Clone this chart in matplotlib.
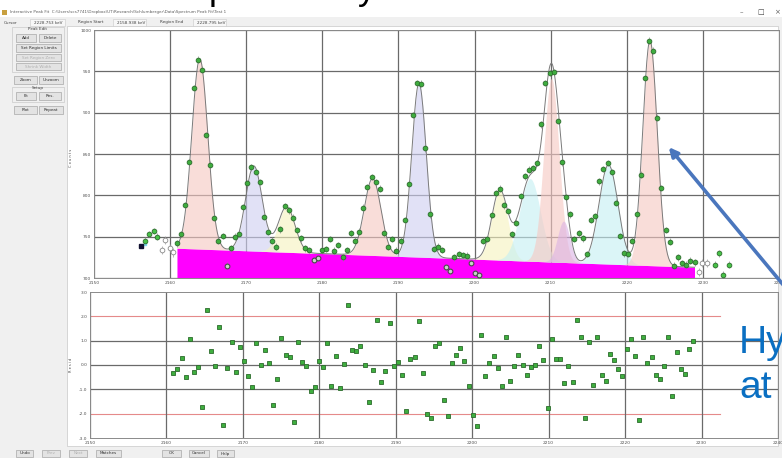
import numpy as np
import matplotlib.pyplot as plt
from matplotlib.patches import Rectangle, FancyArrowPatch

W, H = 782, 458

# channel calibration of the fit region
START_KEV = 2160.9
KEV_PER_CH = 0.544

counts = [742, 753, 788, 840, 930, 964, 952, 873, 837, 773,
          745, 751, 715, 736, 750, 753, 786, 815, 834, 828,
          816, 774, 756, 745, 738, 759, 787, 782, 773, 758,
          748, 736, 734, 722, 724, 734, 735, 747, 733, 740,
          725, 734, 754, 745, 756, 785, 810, 822, 816, 808,
          754, 738, 747, 733, 745, 770, 814, 897, 936, 935,
          857, 777, 735, 738, 734, 713, 708, 725, 729, 728,
          727, 718, 706, 704, 745, 747, 776, 803, 808, 788,
          781, 753, 767, 799, 823, 831, 833, 839, 886, 936,
          948, 949, 890, 840, 798, 777, 747, 754, 748, 729,
          770, 775, 817, 832, 839, 828, 791, 751, 730, 729,
          745, 777, 825, 942, 987, 975, 894, 809, 758, 744,
          715, 725, 718, 716, 721, 719]

residuals = [-0.34, -0.16, 0.27, -0.48, 1.07, -0.30, -0.10, -1.71, 2.26, 0.56,
             -0.03, 1.58, -2.46, -0.12, 0.95, -0.29, 0.74, 0.18, -0.45, -0.89,
             0.91, 0.00, 0.60, 0.10, -1.63, -0.59, 1.10, 0.40, 0.34, -2.35,
             0.95, 0.11, -0.03, -1.06, -0.92, 0.18, -0.10, 0.92, -0.88, 0.37,
             -0.93, 0.04, 2.48, 0.62, 0.59, 0.78, 0.00, -1.54, -0.22, 1.85,
             -0.71, -0.26, 1.74, -0.03, 0.14, -0.42, -1.91, 0.25, 0.32, 1.81,
             -0.34, -2.03, -2.17, 0.79, 0.92, -1.43, -2.09, 0.07, 0.42, 0.70,
             0.18, -0.88, -2.04, -2.52, 1.22, -0.45, 0.07, 0.37, -0.11, -0.86,
             1.16, -0.67, -0.03, 0.40, 0.00, -0.41, -0.10, -0.01, 0.79, 0.19,
             -1.76, 1.06, 0.23, 0.23, -0.73, -0.03, -0.69, 1.85, 1.16, -2.17,
             0.96, -0.82, 1.16, -0.40, -0.66, 0.44, 0.21, -0.18, -0.47, 0.66,
             1.07, 0.37, -2.26, 1.14, 0.07, 0.34, -0.42, -0.58, -0.03, 1.16,
             -1.28, 0.53, -0.16, -0.38, 0.66, 0.99]

# points outside the fit region
pre_keV = [2156.7, 2157.2, 2157.9, 2158.3]
pre_counts = [745, 753, 757, 750]
excl_keV = [2158.9, 2159.3, 2160.0, 2160.4, 2229.5, 2229.9, 2230.5]
excl_counts = [734, 746, 736, 731, 707, 718, 718]
post_keV = [2231.6, 2232.1, 2232.6, 2233.4]
post_counts = [716, 730, 704, 716]
cursor_keV, cursor_counts = 2156.2, 739

# linear background
bg_keV = [2160.9, 2228.9]
bg_counts = [736, 713]

# fitted peaks
peak_centers = [2163.9, 2171.0, 2175.3, 2186.6, 2192.7, 2203.3, 2207.3, 2210.1, 2211.7, 2217.6, 2223.05]
peak_heights = [230, 103, 55, 93, 210, 84, 100, 222, 50, 120, 272]
peak_sigmas = [1.05, 1.1, 1.1, 1.1, 0.95, 1.05, 1.35, 1.0, 0.8, 1.25, 0.95]
peak_colors = ['#f6c9c3', '#cfd0f2', '#f6f3bf', '#f6c9c3', '#cfd0f2', '#f6f3bf',
               '#c5eff3', '#f6c9c3', '#dcb4e4', '#c5eff3', '#f6c9c3']

energy = START_KEV + KEV_PER_CH * np.arange(len(counts))
counts = np.array(counts)

fig = plt.figure(figsize=(W / 100, H / 100), dpi=100)
fig.patch.set_facecolor('#f0f0f0')


def rect(x, y, w, h, **kw):
    fig.patches.append(Rectangle((x / W, 1 - (y + h) / H), w / W, h / H,
                                 transform=fig.transFigure, **kw))


def label(x, y, s, **kw):
    kw.setdefault('fontsize', 3)
    kw.setdefault('color', '#404040')
    kw.setdefault('va', 'center')
    fig.text(x / W, 1 - y / H, s, **kw)


def button(x, y, w, h, s, enabled=True):
    rect(x, y, w, h, facecolor='#e3e3e3', edgecolor='#a8a8a8', lw=0.5)
    label(x + w / 2, y + h / 2, s, ha='center',
          color='#303030' if enabled else '#b0b0b0')


# slide area above the window
rect(0, 0, W, 8, facecolor='white', edgecolor='none', zorder=-5)
label(209, -1.5, 'p', fontsize=26, color='black', va='baseline', family='Liberation Sans')
label(358, -1.5, 'y', fontsize=26, color='black', va='baseline', family='Liberation Sans')

# title bar and toolbar
rect(0, 8, W, 9, facecolor='white', edgecolor='none', zorder=-5)
rect(2, 10, 5, 5, facecolor='#c8a040', edgecolor='none')
label(10, 12.5, 'Interactive Peak Fit  C:\\Users\\scs7741\\Dropbox\\UT\\Research\\Schlumberger\\Data\\Spectrum Peak Fit\\Test 1',
      color='#606060')
label(740, 12.5, '\u2013', fontsize=5, color='#606060')
label(757, 12.5, '\u25a1', fontsize=5, color='#404040')
label(774, 12.5, '\u00d7', fontsize=5, color='#606060')
label(4, 22.5, 'Cursor')
rect(30, 19, 35, 7, facecolor='#f7f7f7', edgecolor='#c8c8c8', lw=0.4)
label(34, 22.5, '2228.753 keV')
label(78, 22.5, 'Region Start')
rect(113, 19, 33, 7, facecolor='#f7f7f7', edgecolor='#c8c8c8', lw=0.4)
label(117, 22.5, '2158.938 keV')
label(160, 22.5, 'Region End')
rect(193, 19, 33, 7, facecolor='#f7f7f7', edgecolor='#c8c8c8', lw=0.4)
label(197, 22.5, '2228.795 keV')

# white plotting canvas behind both axes
rect(67, 26, 711, 420, facecolor='white', edgecolor='#c8c8c8', lw=0.5, zorder=-5)

# left control panel
rect(12, 27, 52, 45, facecolor='none', edgecolor='#c0c0c0', lw=0.4)
label(38, 29, 'Peak Edit', ha='center')
button(16, 34, 20, 8, 'Add')
button(39, 34, 22, 8, 'Delete')
button(16, 44, 45, 8, 'Set Region Limits')
button(16, 54, 45, 7, 'Set Region Zero', enabled=False)
button(16, 63, 45, 7, 'Shrink Width', enabled=False)
button(14, 76, 23, 8, 'Zoom')
button(39, 76, 24, 8, 'Unzoom')
rect(12, 87, 52, 15, facecolor='none', edgecolor='#c0c0c0', lw=0.4)
label(38, 88.5, 'Setup', ha='center')
button(16, 92, 20, 8, 'Fit')
button(39, 92, 22, 8, 'Res.')
button(14, 106, 23, 8, 'Plot')
button(39, 106, 24, 8, 'Repeat')

# bottom button row
for x, w, s, on in [(16, 17, 'Undo', True), (42, 18, 'Prev', False), (69, 18, 'Next', False),
                    (96, 25, 'Matches', True), (162, 19, 'OK', True), (189, 20, 'Cancel', True),
                    (217, 17, 'Help', True)]:
    button(x, 450, w, 7, s, enabled=on)

grid_kw = dict(color='#6a6a6a', lw=0.9, zorder=1)
tick_kw = dict(length=0, labelsize=3.2, labelcolor='#505050', pad=2)

# spectrum with fitted peaks
ax = fig.add_axes([94 / W, 1 - 278 / H, 685 / W, 248 / H])
ax.set_xlim(2150, 2240)
ax.set_ylim(700, 1000)
ax.set_xticks(np.arange(2150, 2241, 10))
ax.set_yticks(np.arange(700, 1001, 50))
ax.grid(True, **grid_kw)
ax.tick_params(**tick_kw)
for s in ax.spines.values():
    s.set_color('#8a8a8a')
    s.set_linewidth(0.7)

bg_slope = (bg_counts[1] - bg_counts[0]) / (bg_keV[1] - bg_keV[0])
xf = np.linspace(bg_keV[0], bg_keV[1], 900)
bg = bg_counts[0] + bg_slope * (xf - bg_keV[0])
ax.fill_between(xf, 700, bg, color='#ff00ff', lw=0, zorder=2)

total = bg.copy()
for c, h, s, col in zip(peak_centers, peak_heights, peak_sigmas, peak_colors):
    g = h * np.exp(-0.5 * ((xf - c) / s) ** 2)
    ax.fill_between(xf, bg, bg + g, where=g > 0.5, color=col, alpha=0.62, lw=0, zorder=3)
    total += g
ax.plot(xf, total, color='#7a7a7a', lw=0.7, zorder=4)

bg_at_ch = bg_counts[0] + bg_slope * (energy - bg_keV[0])
low = counts < bg_at_ch - 4
ax.errorbar(energy, counts, yerr=4, fmt='none', ecolor='#909090', elinewidth=0.5, zorder=5)
ax.plot(energy[~low], counts[~low], 'o', ms=3.4, mfc='#3fae3f', mec='#2c6b2c', mew=0.6, zorder=6)
ax.plot(energy[low], counts[low], 'o', ms=3.4, mfc='#c9d6c9', mec='#4a4a4a', mew=0.8, zorder=6)
ax.errorbar(pre_keV + post_keV, pre_counts + post_counts, yerr=4, fmt='o', ms=3.4,
            mfc='#47c247', mec='#2c6b2c', mew=0.6, ecolor='#909090', elinewidth=0.5, zorder=6)
ax.errorbar(excl_keV, excl_counts, yerr=5, fmt='o', ms=3.4, mfc='white', mec='#8a8a8a',
            mew=0.6, ecolor='#a0a0a0', elinewidth=0.5, zorder=6)
ax.plot([cursor_keV], [cursor_counts], 's', ms=3.4, color='#101030', zorder=7)
ax.plot([cursor_keV + 0.5], [cursor_counts + 2], 's', ms=2, color='#7fd8f0', zorder=6)

# residuals
ar = fig.add_axes([90 / W, 1 - 438 / H, 688 / W, 146 / H])
ar.set_xlim(2150, 2240)
ar.set_ylim(-3, 3)
ar.set_xticks(np.arange(2150, 2241, 10))
ar.set_yticks(np.arange(-3, 3.1, 1))
ar.set_yticklabels(['%.1f' % v for v in np.arange(-3, 3.1, 1)])
ar.grid(True, axis='x', **grid_kw)
for v in (-1, 0, 1):
    ar.axhline(v, **grid_kw)
for v in (-2, 2):
    ar.plot([2150, 2232.4], [v, v], color='#e58a8a', lw=0.8, zorder=1)
ar.tick_params(**tick_kw)
for s in ar.spines.values():
    s.set_color('#8a8a8a')
    s.set_linewidth(0.7)
ar.plot(energy, residuals, 's', ms=3.1, mfc='#3fae3f', mec='#2c6b2c', mew=0.6, zorder=5)

label(71, 158, 'C o u n t s', rotation=90, ha='center', fontsize=2.5)
label(71, 365, 'R e s i d', rotation=90, ha='center', fontsize=2.5)

# annotation from the slide
fig.patches.append(FancyArrowPatch((790 / W, 1 - 293 / H), (667 / W, 1 - 145 / H),
                                   transform=fig.transFigure, arrowstyle='-|>',
                                   mutation_scale=13, lw=2.6, color='#4a76bd', zorder=10))
label(739, 343, 'Hy', fontsize=28, color='#0a6fc2', family='Liberation Sans')
label(739, 388, 'at', fontsize=28, color='#0a6fc2', family='Liberation Sans')

fig.savefig('out.png', dpi=100)
